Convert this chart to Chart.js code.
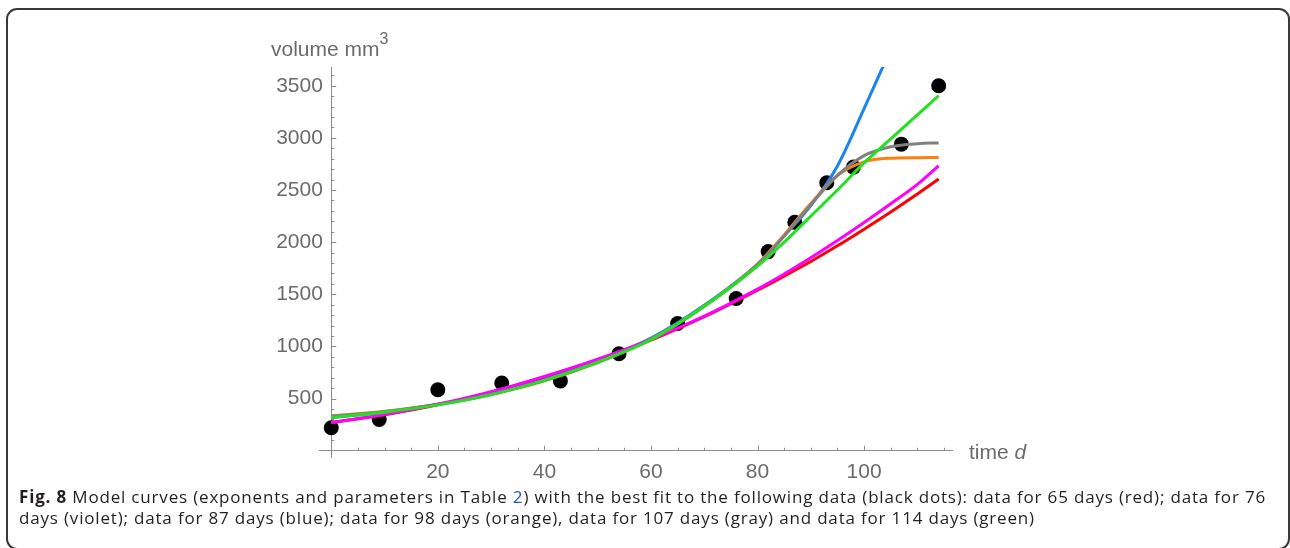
<!DOCTYPE html>
<html>
<head>
<meta charset="utf-8">
<script src="https://cdn.jsdelivr.net/npm/chart.js@4.4.1/dist/chart.umd.min.js"></script>
<style>
  body { margin: 0; background: #fff; }
  #wrap { position: relative; width: 1290px; height: 548px; overflow: hidden; }
  #frame { position: absolute; left: 6px; top: 8px; width: 1280px; height: 538px;
           border: 2px solid #3a3a3a; border-radius: 11px; }
  canvas { position: absolute; left: 0; top: 0; }
  .axlabel { position: absolute; font-family: "Liberation Sans", Arial, sans-serif;
             font-size: 21px; color: #6b6b6b; white-space: nowrap; }
  #caption { position: absolute; left: 19px; top: 486px;
             font-family: "Open Sans", sans-serif; font-size: 17px; line-height: 21px;
             color: #231f20; white-space: nowrap; }
  #caption b { font-weight: 700; }
  #caption .ref { color: #1f56c9; }
</style>
</head>
<body>
<div id="wrap">
  <div id="frame"></div>
  <canvas id="myChart" width="1290" height="548"></canvas>
  <div class="axlabel" style="left:271px; top:30px;">volume mm<sup style="font-size:16px; vertical-align:12px;">3</sup></div>
  <div class="axlabel" style="left:969px; top:440px;">time <i>d</i></div>
  <div id="caption"><span id="line1"><b>Fig. 8</b> Model curves (exponents and parameters in Table <span class="ref">2</span>) with the best fit to the following data (black dots): data for 65 days (red); data for 76</span><br><span id="line2">days (violet); data for 87 days (blue); data for 98 days (orange), data for 107 days (gray) and data for 114 days (green)</span></div>
</div>
<script>
// measured tumour volumes
const obsDays = [0, 9, 20, 32, 43, 54, 65, 76, 82, 87, 93, 98, 107, 114];
const obsVolume = [220, 300, 585, 650, 670, 930, 1220, 1460, 1910, 2190, 2570, 2720, 2940, 3500];

// model curves, sampled on these days
const days = [0, 10, 20, 30, 40, 50, 60, 70, 80, 85, 90, 95, 100, 105, 110, 114];
const fit65 = [270, 345, 440, 560, 705, 870, 1060, 1285, 1540, 1675, 1815, 1965, 2125, 2290, 2462, 2606];
const fit76 = [270, 348, 445, 565, 712, 878, 1068, 1290, 1550, 1695, 1850, 2015, 2188, 2368, 2555, 2733];
const fit87 = [320, 372, 445, 545, 680, 860, 1080, 1395, 1790, 2060, 2350, 2730, 3280, 3850];
const fit98 = [335, 378, 445, 540, 670, 845, 1070, 1385, 1790, 2070, 2370, 2640, 2770, 2805, 2810, 2812];
const fit107 = [330, 375, 443, 540, 672, 848, 1072, 1385, 1785, 2060, 2360, 2640, 2830, 2915, 2945, 2952];
const fit114 = [318, 370, 440, 540, 675, 850, 1065, 1385, 1770, 2000, 2250, 2500, 2760, 2990, 3220, 3405];

const xTicks = [20, 40, 60, 80, 100];
const yTicks = [500, 1000, 1500, 2000, 2500, 3000, 3500];

// stretch the first caption line to the column width
const line1 = document.getElementById('line1');
const gap = (1247 - line1.getBoundingClientRect().width) / line1.textContent.length;
document.getElementById('caption').style.letterSpacing = gap + 'px';

const toPoints = (xs, ys) => ys.map((y, i) => ({ x: xs[i], y }));

const curve = (label, ys, color, order) => ({
  label,
  data: toPoints(days, ys),
  showLine: true,
  borderColor: color,
  backgroundColor: color,
  borderWidth: 3,
  pointRadius: 0,
  cubicInterpolationMode: 'monotone',
  fill: false,
  order
});

const axisColor = '#8c8c8c';
const tickFont = { family: '"Liberation Sans", Arial, sans-serif', size: 21 };

// small inward tick marks like the original plot
const minorTicks = {
  id: 'minorTicks',
  beforeDatasetsDraw(chart) {
    const { ctx, scales: { x, y } } = chart;
    const x0 = x.getPixelForValue(0);
    const y0 = y.getPixelForValue(0);
    ctx.save();
    ctx.strokeStyle = axisColor;
    ctx.lineWidth = 1;
    ctx.beginPath();
    for (let v = 100; v <= 3600; v += 100) {
      const p = Math.round(y.getPixelForValue(v)) + 0.5;
      const len = v % 500 === 0 ? 5 : 3;
      ctx.moveTo(x0, p);
      ctx.lineTo(x0 + len, p);
    }
    for (let v = 5; v <= 115; v += 5) {
      const p = Math.round(x.getPixelForValue(v)) + 0.5;
      const len = v % 20 === 0 ? 5 : 3;
      ctx.moveTo(p, y0);
      ctx.lineTo(p, y0 - len);
    }
    ctx.stroke();
    ctx.restore();
  }
};

new Chart(document.getElementById('myChart'), {
  type: 'scatter',
  data: {
    datasets: [
      curve('114 days', fit114, '#22e022', 0),
      curve('76 days', fit76, '#ff00ff', 1),
      curve('107 days', fit107, '#808080', 2),
      curve('98 days', fit98, '#ff7f0e', 3),
      curve('87 days', fit87, '#1a84f0', 4),
      curve('65 days', fit65, '#ff0000', 5),
      {
        label: 'data',
        data: toPoints(obsDays, obsVolume),
        showLine: false,
        pointRadius: 7.5,
        pointHoverRadius: 7.5,
        backgroundColor: '#000',
        borderWidth: 0,
        order: 10
      }
    ]
  },
  options: {
    responsive: false,
    animation: false,
    layout: { padding: { left: 319, top: 67, right: 338, bottom: 91 } },
    plugins: { legend: { display: false }, tooltip: { enabled: false } },
    scales: {
      x: {
        type: 'linear',
        min: -2.3,
        max: 116.5,
        position: { y: 0 },
        grid: { display: false, drawTicks: false },
        border: { display: true, color: axisColor, width: 1 },
        ticks: { font: tickFont, color: '#6b6b6b', padding: 9, maxRotation: 0 },
        afterBuildTicks: (scale) => { scale.ticks = xTicks.map(v => ({ value: v })); }
      },
      y: {
        type: 'linear',
        min: -60,
        max: 3680,
        position: { x: 0 },
        grid: { display: false, drawTicks: false },
        border: { display: true, color: axisColor, width: 1 },
        // labels sit right against a positioned axis, so pad them with a space
        ticks: { font: tickFont, color: '#6b6b6b', callback: (v) => v + '\u2009\u2009' },
        afterBuildTicks: (scale) => { scale.ticks = yTicks.map(v => ({ value: v })); }
      }
    }
  },
  plugins: [minorTicks]
});
</script>
</body>
</html>
